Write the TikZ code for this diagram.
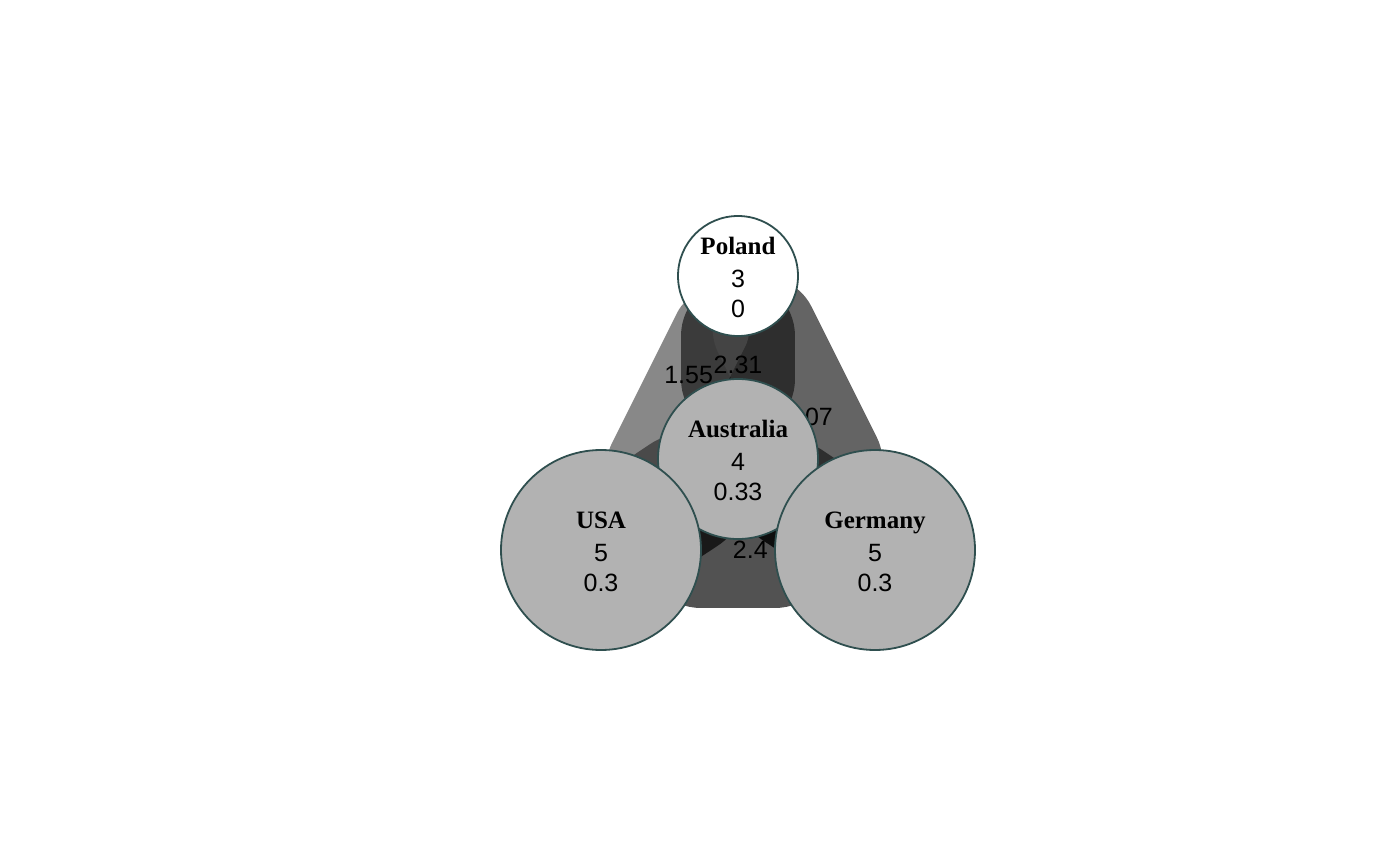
\documentclass[tikz,border=0pt]{standalone}
\usepackage{fontspec}
\setmainfont{Liberation Serif}
\setsansfont{Liberation Sans}
\pgfdeclarelayer{edges}
\pgfdeclarelayer{labels}
\pgfsetlayers{edges,labels,main}
\definecolor{nodeborder}{HTML}{2F4F4F}
\definecolor{nodefill}{gray}{0.70}
\definecolor{cPA}{gray}{0}
\definecolor{cUA}{gray}{0}
\definecolor{cAG}{gray}{0}
\definecolor{cPG}{gray}{0.21}
\definecolor{cPU}{gray}{0.309}
\definecolor{cUG}{gray}{0.038}
\newcommand{\cname}[1]{\rule{0pt}{20pt}{\bfseries #1}}
\begin{document}
\begin{tikzpicture}[x=1pt,y=-1pt,
  country/.style={circle, draw=nodeborder, line width=1.8pt, inner sep=0pt, outer sep=0pt,
    fill=nodefill, align=center, font=\fontsize{25}{30}\selectfont},
  edgeband/.style={line cap=round},
  elabel/.style={font=\sffamily\fontsize{25}{30}\selectfont, inner sep=0pt}
]
\useasboundingbox (0,0) rectangle (1400,866);
\node[country, fill=white, minimum size=120pt] (P) at (738,276) {\cname{Poland}\\[2.5pt]{\sffamily 3}\\{\sffamily 0}};
\node[country, minimum size=160pt] (A) at (738,459) {\cname{Australia}\\[2.5pt]{\sffamily 4}\\{\sffamily 0.33}};
\node[country, minimum size=200pt] (U) at (601,550) {\cname{USA}\\[2.5pt]{\sffamily 5}\\{\sffamily 0.3}};
\node[country, minimum size=200pt] (G) at (875,550) {\cname{Germany}\\[2.5pt]{\sffamily 5}\\{\sffamily 0.3}};
\begin{pgfonlayer}{edges}
\draw[edgeband, draw=cPA, draw opacity=0.92, line width=114pt] (P) -- (A);
\draw[edgeband, draw=cUA, draw opacity=0.75, line width=122pt] (U) -- (A);
\draw[edgeband, draw=cAG, draw opacity=0.92, line width=108pt] (A) -- (G);
\draw[edgeband, draw=cPG, draw opacity=0.772, line width=104pt] (P) -- (G);
\draw[edgeband, draw=cPU, draw opacity=0.68, line width=76pt] (U) -- (P);
\draw[edgeband, draw=cUG, draw opacity=0.707, line width=116pt] (U) -- (G);
\end{pgfonlayer}
\begin{pgfonlayer}{labels}
\path (U) -- node[elabel, pos=0.655] {1.55} (P);
\path (P) -- node[elabel, pos=0.667] {2.31} (A);
\path (P) -- node[elabel, pos=0.667] {2.07} (G);
\path (U) -- node[elabel, pos=0.667] {2.4} (G);
\end{pgfonlayer}
\end{tikzpicture}
\end{document}
